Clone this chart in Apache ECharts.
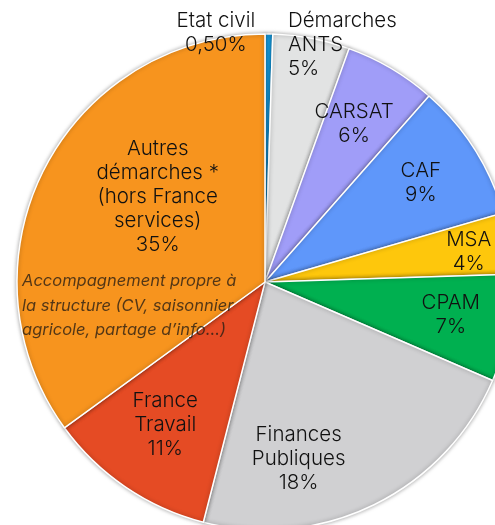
<!DOCTYPE html>
<html>
<head>
<meta charset="utf-8">
<script src="https://cdn.jsdelivr.net/npm/echarts@6/dist/echarts.min.js"></script>
<style>
  html, body { margin: 0; padding: 0; background: #fff; }
  #chart { width: 495px; height: 525px; }
</style>
</head>
<body>
<div id="chart"></div>
<script>
// categories, clockwise from 12 o'clock
const categories = ['Etat civil', 'Démarches\nANTS', 'CARSAT', 'CAF', 'MSA', 'CPAM',
  'Finances\nPubliques', 'France\nTravail', 'Autres\ndémarches *\n(hors France\nservices)'];
// slice sizes as drawn (%)
const shares = [0.5, 5, 6, 9, 4, 7, 22.5, 11, 35];
// percentages as printed on the slices
const pctLabels = ['0,50%', '5%', '6%', '9%', '4%', '7%', '18%', '11%', '35%'];
const colors = ['#17a3ea', '#e2e3e3', '#a09df8', '#5f97fa', '#fec70c', '#00b050',
  '#d0d0d2', '#e54b24', '#f7941e'];
// small nudges of the labels from their default spot
const nudges = [[-52, -68], [-11, -59], [-3, -2], [3, -2], [25, -2], [8, -1], [-46, 14], [2, -7], [54, -3]];
const noteText = 'Accompagnement propre à\nla structure (CV, saisonnier\nagricole, partage d\u2019info…)';

const chart = echarts.init(document.getElementById('chart'));
const pieData = categories.map((c, i) => ({
  name: c, value: shares[i], itemStyle: { color: colors[i] }
}));

chart.setOption({
  animation: false,
  series: [
    {
      type: 'pie',
      center: [265, 282],
      radius: [0, 248],
      startAngle: 90,
      clockwise: true,
      silent: true,
      data: pieData,
      itemStyle: {
        borderColor: '#fff',
        borderWidth: 1.5,
        shadowBlur: 4,
        shadowColor: 'rgba(0,0,0,0.35)'
      },
      label: { show: false },
      labelLine: { show: false }
    },
    {
      // transparent ring carrying the labels
      type: 'pie',
      center: [265, 282],
      radius: [108, 248],
      startAngle: 90,
      clockwise: true,
      silent: true,
      z: 5,
      data: pieData.map(d => ({ name: d.name, value: d.value, itemStyle: { color: 'transparent' } })),
      itemStyle: { borderWidth: 0 },
      label: {
        show: true,
        position: 'inside',
        formatter: p => categories[p.dataIndex] + '\n' + pctLabels[p.dataIndex],
        fontFamily: 'Inter',
        fontWeight: 300,
        fontSize: 20.5,
        lineHeight: 24,
        color: '#111',
        align: 'center'
      },
      labelLine: { show: false },
      labelLayout: p => {
        const n = nudges[p.dataIndex];
        const out = { dx: n[0], dy: n[1] };
        if (p.dataIndex === 1) out.align = 'left';
        return out;
      }
    }
  ],
  graphic: [{
    type: 'text',
    left: 22,
    top: 269,
    silent: true,
    z: 10,
    style: {
      text: noteText,
      font: 'italic 16.5px Inter',
      lineHeight: 24.5,
      fill: 'rgba(40,30,20,0.8)'
    }
  }]
});
</script>
</body>
</html>
